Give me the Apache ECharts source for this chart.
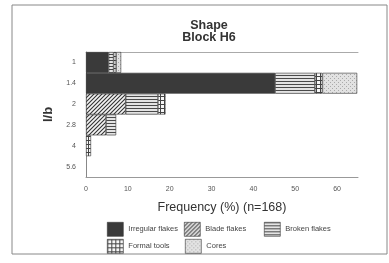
<!DOCTYPE html>
<html>
<head>
<meta charset="utf-8">
<script src="https://cdn.jsdelivr.net/npm/echarts@6/dist/echarts.min.js"></script>
<style>
html, body { margin: 0; padding: 0; background: #fff; }
#chart { width: 389px; height: 263px; }
</style>
</head>
<body>
<div id="chart"></div>
<script>
// l/b classes, top to bottom
var categories = ['1', '1.4', '2', '2.8', '4', '5.6'];
// frequency (%) per class, n=168
var irregular = [5.4, 45.2, null, null, null, null];
var blade     = [null, null, 9.5, 4.8, null, null];
var broken    = [1.2, 9.5, 7.7, 2.4, null, null];
var formal    = [0.6, 1.8, 1.8, null, 1.2, null];
var cores     = [1.2, 8.3, null, null, null, null];
var xTicks = [0, 10, 20, 30, 40, 50, 60];

function makePattern(size, bg, draw) {
  var c = document.createElement('canvas');
  c.width = size[0]; c.height = size[1];
  var ctx = c.getContext('2d');
  ctx.fillStyle = bg;
  ctx.fillRect(0, 0, size[0], size[1]);
  draw(ctx);
  return { image: c, repeat: 'repeat' };
}

var bladeFill = makePattern([4, 4], '#f4f4f4', function (ctx) {
  ctx.strokeStyle = '#333';
  ctx.lineWidth = 1.1;
  ctx.beginPath();
  ctx.moveTo(-1, 5); ctx.lineTo(5, -1);
  ctx.moveTo(-1, 1); ctx.lineTo(1, -1);
  ctx.moveTo(3, 5); ctx.lineTo(5, 3);
  ctx.stroke();
});
var brokenFill = makePattern([4, 3], '#e4e4e4', function (ctx) {
  ctx.fillStyle = '#4a4a4a';
  ctx.fillRect(0, 0, 4, 1);
});
var formalFill = makePattern([4, 4], '#f6f6f6', function (ctx) {
  ctx.fillStyle = '#444';
  ctx.fillRect(0, 0, 4, 1);
  ctx.fillRect(0, 0, 1, 4);
});
var coresFill = makePattern([4, 4], '#e2e2e2', function (ctx) {
  ctx.fillStyle = '#aaa';
  ctx.fillRect(0, 0, 1, 1);
  ctx.fillRect(2, 2, 1, 1);
});

var font = 'Liberation Sans, Arial, sans-serif';

function bar(name, data, fill) {
  return {
    name: name,
    type: 'bar',
    stack: 'total',
    barCategoryGap: '0%',
    data: data,
    itemStyle: { color: fill, borderColor: '#333', borderWidth: 0.6 },
    emphasis: { disabled: true }
  };
}

// one legend per entry so the two rows line up in columns
function legend(left, top, name) {
  return {
    left: left, top: top, orient: 'horizontal', padding: 0,
    icon: 'rect', itemWidth: 16, itemHeight: 14, itemTextGap: 4,
    itemStyle: { borderWidth: 0.6, borderColor: '#333' },
    textStyle: { fontSize: 7.5, color: '#444', fontFamily: font },
    data: [name], selectedMode: false
  };
}

var chart = echarts.init(document.getElementById('chart'));
chart.setOption({
  animation: false,
  backgroundColor: '#fff',
  title: {
    text: 'Shape\nBlock H6',
    left: 204, top: 15, textAlign: 'center',
    textStyle: { fontSize: 12.5, fontWeight: 'bold', color: '#333', fontFamily: font, lineHeight: 12 }
  },
  graphic: [{
    type: 'rect', shape: { x: 12, y: 5, width: 375, height: 249 },
    style: { fill: null, stroke: '#888', lineWidth: 1 }, silent: true
  }],
  legend: [
    legend(107, 222, 'Irregular flakes'),
    legend(184, 222, 'Blade flakes'),
    legend(264, 222, 'Broken flakes'),
    legend(107, 239, 'Formal tools'),
    legend(185, 239, 'Cores')
  ],
  grid: { left: 86, right: 31, top: 52, bottom: 86 },
  xAxis: [{
    type: 'value', min: 0, max: 65, interval: 10,
    name: 'Frequency (%) (n=168)', nameLocation: 'middle', nameGap: 24,
    nameTextStyle: { fontSize: 12.5, color: '#333', fontFamily: font },
    axisLine: { show: true, lineStyle: { color: '#999', width: 1 } },
    axisTick: { show: false },
    splitLine: { show: false },
    axisLabel: {
      fontSize: 7, color: '#555', fontFamily: font, margin: 9, showMaxLabel: false,
      formatter: function (v) { return xTicks.indexOf(v) >= 0 ? String(v) : ''; }
    }
  }, {
    type: 'value', position: 'top', min: 0, max: 65,
    axisLine: { show: true, lineStyle: { color: '#aaa', width: 1 } },
    axisTick: { show: false }, axisLabel: { show: false }, splitLine: { show: false }
  }],
  yAxis: {
    type: 'category', inverse: true, data: categories,
    name: 'l/b', nameLocation: 'middle', nameGap: 21, nameRotate: 90,
    nameTextStyle: { fontSize: 13, fontWeight: 'bold', color: '#333', fontFamily: font },
    axisLine: { lineStyle: { color: '#888', width: 1 } },
    axisTick: { show: false },
    axisLabel: { fontSize: 7, color: '#555', fontFamily: font, margin: 10 }
  },
  series: [
    bar('Irregular flakes', irregular, '#3a3a3a'),
    bar('Blade flakes', blade, bladeFill),
    bar('Broken flakes', broken, brokenFill),
    bar('Formal tools', formal, formalFill),
    bar('Cores', cores, coresFill)
  ]
});
</script>
</body>
</html>
